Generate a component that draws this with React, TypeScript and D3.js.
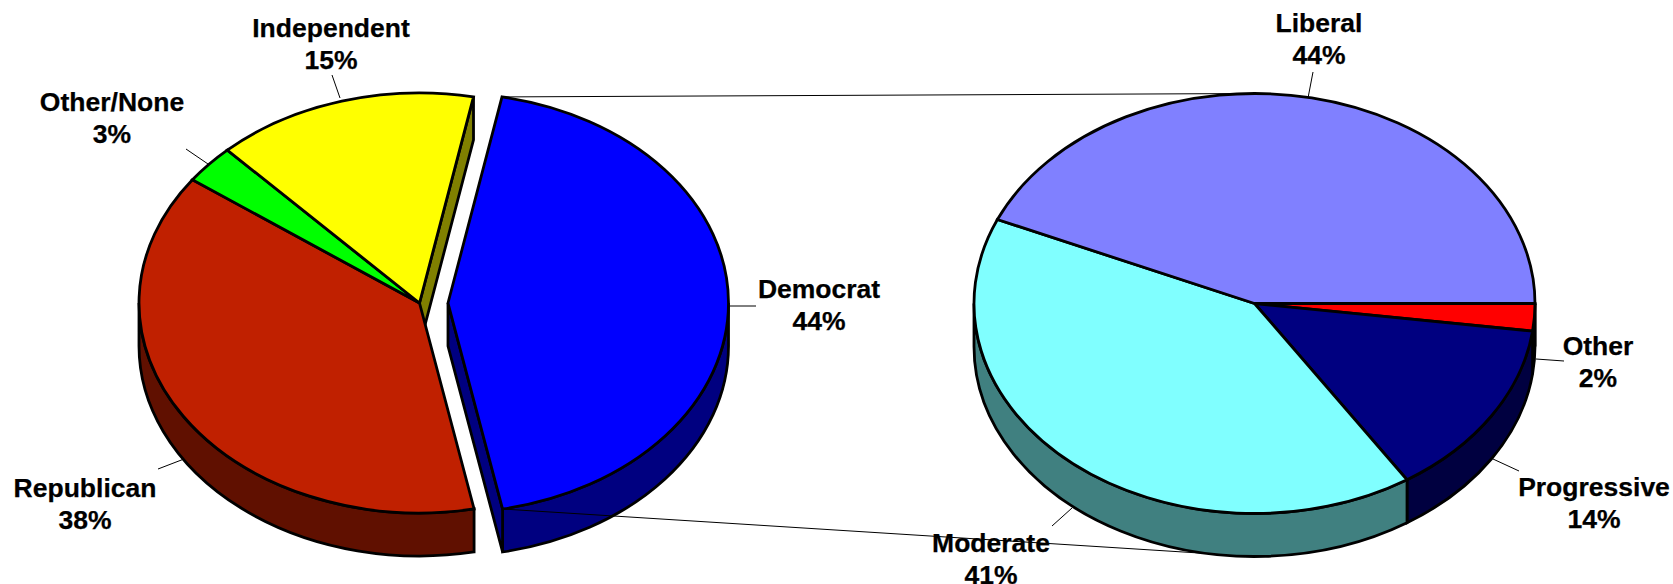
import React from "react";
import * as d3 from "d3";

const partyNames = ["Democrat", "Republican", "Other/None", "Independent"];
const partyValues = [43.8, 38.1, 3.0, 15.1];
const partyLabels = ["44%", "38%", "3%", "15%"];
const ideologyNames = ["Other", "Progressive", "Moderate", "Liberal"];
const ideologyValues = [2.1, 13.75, 40.7, 43.45];
const ideologyLabels = ["2%", "14%", "41%", "44%"];

const partyTop = ["#0000ff", "#c02000", "#00ff00", "#ffff00"];
const partyWall = ["#000080", "#601000", "#008000", "#808000"];
const ideologyTop = ["#ff0000", "#000080", "#80ffff", "#8080ff"];
const ideologyWall = ["#800000", "#000040", "#408080", "#404080"];

const W = 1673, H = 584;
const RX = 280.5, RY = 210, DEPTH = 43;
const DEG = Math.PI / 180;
const LEFT = { cx: 419.5, cy: 303, explode: 28.5 };
const RIGHT = { cx: 1254.5, cy: 303.5 };

const partyPlace = [
  { x: 819, y: 298, lx1: 729, ly1: 306, lx2: 756, ly2: 306 },
  { x: 85, y: 497, lx1: 184, ly1: 459, lx2: 158, ly2: 469 },
  { x: 112, y: 111, lx1: 208, ly1: 164, lx2: 186, ly2: 149 },
  { x: 331, y: 37, lx1: 340, ly1: 98, lx2: 332, ly2: 75 },
];
const ideologyPlace = [
  { x: 1598, y: 355, lx1: 1536, ly1: 359, lx2: 1564, ly2: 361 },
  { x: 1594, y: 496, lx1: 1493, ly1: 459, lx2: 1519, ly2: 471 },
  { x: 991, y: 552, lx1: 1072, ly1: 508, lx2: 1052, ly2: 526 },
  { x: 1319, y: 32, lx1: 1308, ly1: 98, lx2: 1313, ly2: 72 },
];

const pie = (start: number) =>
  d3.pie<number>().sort(null).value((d) => d).startAngle(start * DEG).endAngle((start + 360) * DEG);

const pt = (cx: number, cy: number, a: number): [number, number] => [
  cx + RX * Math.sin(a),
  cy - RY * Math.cos(a),
];

function topPath(cx: number, cy: number, a0: number, a1: number) {
  const p = pt(cx, cy, a0), q = pt(cx, cy, a1);
  return `M${cx},${cy}L${p}A${RX},${RY} 0 ${a1 - a0 > Math.PI ? 1 : 0} 1 ${q}Z`;
}
function wallPath(cx: number, cy: number, a0: number, a1: number) {
  // Only the part of the rim on the front half of the pie can be seen.
  const spans = [
    [a0, a1],
    [a0 - 2 * Math.PI, a1 - 2 * Math.PI],
  ];
  let out = "";
  for (const [s, e] of spans) {
    const b0 = Math.max(s, Math.PI / 2), b1 = Math.min(e, (3 * Math.PI) / 2);
    if (b1 <= b0) continue;
    const p = pt(cx, cy, b0), q = pt(cx, cy, b1);
    out += `M${p}A${RX},${RY} 0 0 1 ${q}L${q[0]},${q[1] + DEPTH}A${RX},${RY} 0 0 0 ${p[0]},${p[1] + DEPTH}Z`;
  }
  return out;
}
function facePath(cx: number, cy: number, a: number) {
  const p = pt(cx, cy, a);
  return `M${cx},${cy}L${p}L${p[0]},${p[1] + DEPTH}L${cx},${cy + DEPTH}Z`;
}

const stroke = { stroke: "#000", strokeWidth: 2.8, strokeLinejoin: "miter" as const };

function Labels({ names, labels, place }: { names: string[]; labels: string[]; place: typeof partyPlace }) {
  return (
    <g fontFamily="'Liberation Sans', Arial, sans-serif" fontWeight="bold" fontSize={26.5} textAnchor="middle" fill="#000" stroke="#000" strokeWidth={0.25}>
      {names.map((n, i) => (
        <g key={n}>
          <line x1={place[i].lx1} y1={place[i].ly1} x2={place[i].lx2} y2={place[i].ly2} stroke="#000" strokeWidth={1} />
          <text x={place[i].x} y={place[i].y}>{n}</text>
          <text x={place[i].x} y={place[i].y + 32}>{labels[i]}</text>
        </g>
      ))}
    </g>
  );
}

export default function App() {
  const left = pie(11.1)(partyValues);
  const right = pie(90)(ideologyValues);
  const cxOf = (i: number) => (i === 0 ? LEFT.cx + LEFT.explode : LEFT.cx);
  const dem = left[0], ind = left[3];
  const top1 = pt(cxOf(0), LEFT.cy, dem.startAngle);
  const bot1 = pt(cxOf(0), LEFT.cy, dem.endAngle);
  return (
    <svg width={W} height={H} viewBox={`0 0 ${W} ${H}`} style={{ position: "absolute", left: 0, top: 0, display: "block", background: "#fff" }}>
      {/* left pie */}
      <path d={facePath(cxOf(3), LEFT.cy, ind.endAngle)} fill={partyWall[3]} {...stroke} />
      {left.map((s, i) => {
        const d = wallPath(cxOf(i), LEFT.cy, s.startAngle, s.endAngle);
        return d ? <path key={i} d={d} fill={partyWall[i]} {...stroke} /> : null;
      })}
      <path d={facePath(cxOf(0), LEFT.cy, dem.endAngle)} fill={partyWall[0]} {...stroke} />
      {left.map((s, i) => (
        <path key={i} d={topPath(cxOf(i), LEFT.cy, s.startAngle, s.endAngle)} fill={partyTop[i]} {...stroke} />
      ))}
      {/* connector lines */}
      <line x1={top1[0]} y1={top1[1]} x2={RIGHT.cx} y2={RIGHT.cy - RY} stroke="#000" strokeWidth={1} />
      <line x1={bot1[0]} y1={bot1[1]} x2={RIGHT.cx} y2={RIGHT.cy + RY + DEPTH} stroke="#000" strokeWidth={1} />
      {/* right pie */}
      {right.map((s, i) => {
        const d = wallPath(RIGHT.cx, RIGHT.cy, s.startAngle, s.endAngle);
        return d ? <path key={i} d={d} fill={ideologyWall[i]} {...stroke} /> : null;
      })}
      {right.map((s, i) => (
        <path key={i} d={topPath(RIGHT.cx, RIGHT.cy, s.startAngle, s.endAngle)} fill={ideologyTop[i]} {...stroke} />
      ))}
      <Labels names={partyNames} labels={partyLabels} place={partyPlace} />
      <Labels names={ideologyNames} labels={ideologyLabels} place={ideologyPlace} />
    </svg>
  );
}
